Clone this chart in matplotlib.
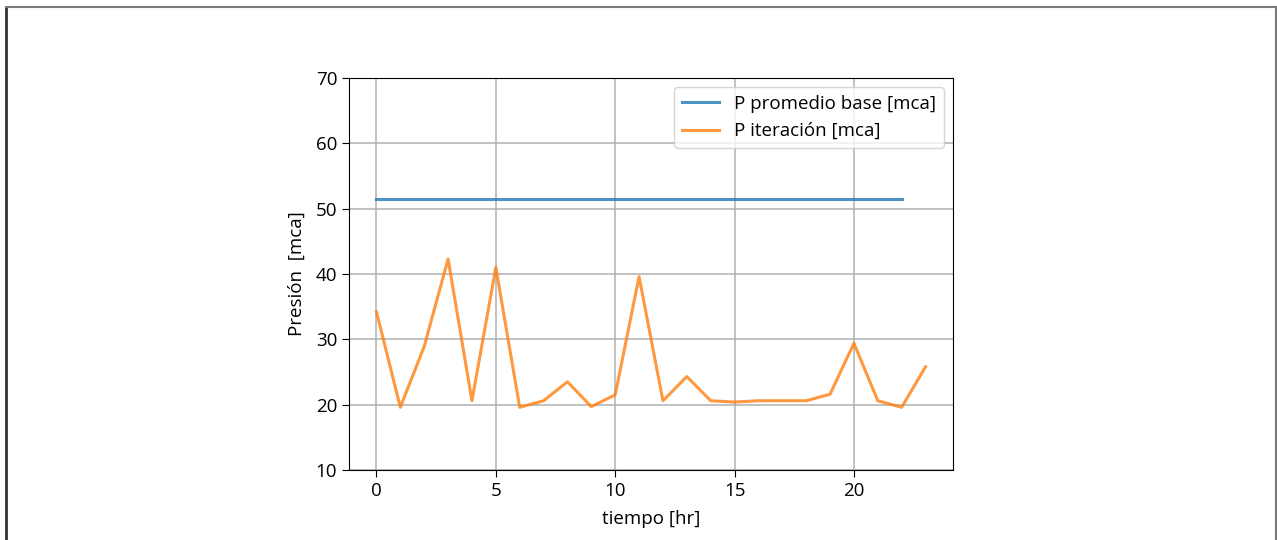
import matplotlib
matplotlib.use("Agg")
import matplotlib.pyplot as plt
from matplotlib.lines import Line2D

plt.rcParams['font.family'] = ['Open Sans', 'DejaVu Sans']

# hourly pressures
horas_base = list(range(23))
p_base = [51.5] * 23
horas = list(range(24))
p_iter = [34.2, 19.6, 28.9, 42.3, 20.6, 41.0, 19.6, 20.6, 23.5, 19.7,
          21.5, 39.6, 20.6, 24.3, 20.6, 20.4, 20.6, 20.6, 20.6, 21.6,
          29.4, 20.6, 19.6, 25.8]

W, H = 1277, 540
fig = plt.figure(figsize=(W / 100, H / 100), dpi=100)

# output cell frame
frame_kw = dict(transform=fig.transFigure, color="#7a7a7a", lw=1.5)
fig.add_artist(Line2D([5.5 / W, 5.5 / W], [0, 1 - 7 / H], color="#333333", lw=2,
                      transform=fig.transFigure))
fig.add_artist(Line2D([5.5 / W, 1276 / W], [1 - 7 / H, 1 - 7 / H], **frame_kw))
fig.add_artist(Line2D([1276 / W, 1276 / W], [0, 1 - 7 / H], **frame_kw))

ax = fig.add_axes([349 / W, 70 / H, 604 / W, 392 / H])
ax.plot(horas_base, p_base, color="#1f77b4", lw=2.2, alpha=0.8, label="P promedio base [mca]")
ax.plot(horas, p_iter, color="#ff7f0e", lw=2.2, alpha=0.8, label="P iteración [mca]")
ax.set_ylim(10, 70)
ax.set_xticks([0, 5, 10, 15, 20])
ax.grid(True, color="#b0b0b0", lw=1.1)
ax.set_xlabel("tiempo [hr]", fontsize=13.5, labelpad=7)
ax.set_ylabel("Presión  [mca]", fontsize=13.5, labelpad=7)
ax.tick_params(labelsize=13.5, length=5)
ax.legend(loc="upper right", fontsize=13.5)

fig.savefig("out.png", dpi=100)
